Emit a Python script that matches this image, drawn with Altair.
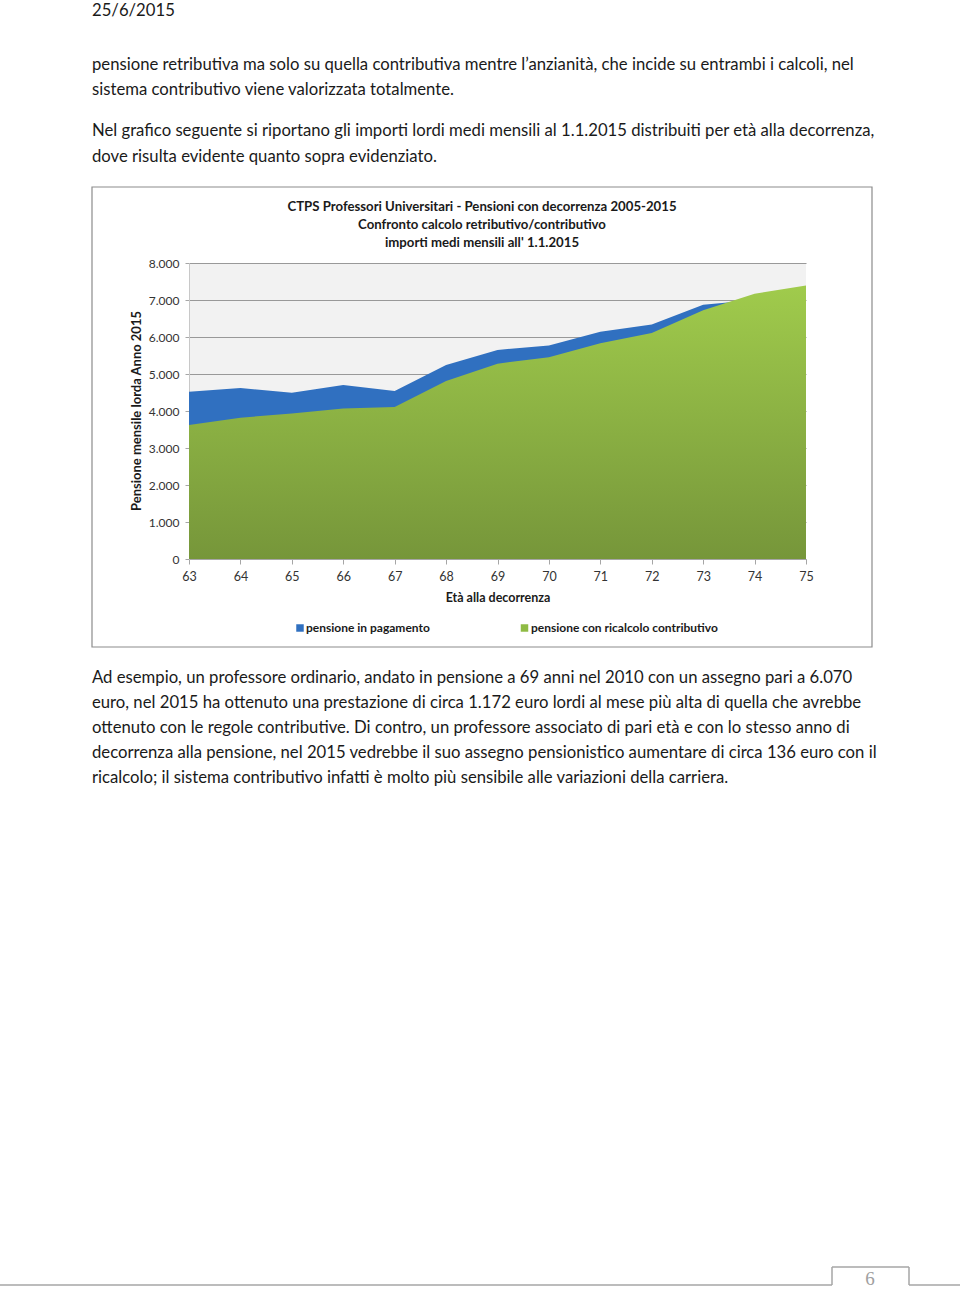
import altair as alt
import pandas as pd

# ---------------- data ----------------
ages = [63, 64, 65, 66, 67, 68, 69, 70, 71, 72, 73, 74, 75]
pensione_in_pagamento = [4520, 4620, 4490, 4700, 4540, 5240, 5650, 5770, 6140, 6340, 6870, 7000, 7250]
pensione_ricalcolo = [3620, 3820, 3930, 4070, 4110, 4810, 5280, 5450, 5830, 6110, 6720, 7170, 7390]
y_ticks = [0, 1000, 2000, 3000, 4000, 5000, 6000, 7000, 8000]
series_names = ["pensione in pagamento", "pensione con ricalcolo contributivo"]

title_lines = [
    "CTPS Professori Universitari - Pensioni con decorrenza 2005-2015",
    "Confronto calcolo retributivo/contributivo",
    "importi medi mensili all' 1.1.2015",
]
y_title = "Pensione mensile lorda Anno 2015"
x_title = "Età alla decorrenza"

header_date = "25/6/2015"
para1 = [
    "pensione retributiva ma solo su quella contributiva mentre l\u2019anzianità, che incide su entrambi i calcoli, nel",
    "sistema contributivo viene valorizzata totalmente.",
]
para2 = [
    "Nel grafico seguente si riportano gli importi lordi medi mensili al 1.1.2015 distribuiti per età alla decorrenza,",
    "dove risulta evidente quanto sopra evidenziato.",
]
para3 = [
    "Ad esempio, un professore ordinario, andato in pensione a 69 anni nel 2010 con un assegno pari a 6.070",
    "euro, nel 2015 ha ottenuto una prestazione di circa 1.172 euro lordi al mese più alta di quella che avrebbe",
    "ottenuto con le regole contributive. Di contro, un professore associato di pari età e con lo stesso anno di",
    "decorrenza alla pensione, nel 2015 vedrebbe il suo assegno pensionistico aumentare di circa 136 euro con il",
    "ricalcolo; il sistema contributivo infatti è molto più sensibile alle variazioni della carriera.",
]
page_number = "6"

# ---------------- styling ----------------
BODY_FONT = "Lato, 'Open Sans', sans-serif"
CHART_FONT = "Lato, 'Open Sans', sans-serif"
BLUE = "#3070c0"
GREEN_TOP = "#a0cb4c"
GREEN_BOTTOM = "#76963a"
TEXT_COLOR = "#1a1a1a"

# plot area placement on the page
PL, PT, PW, PH = 189, 263, 617, 296
PAGE_W, PAGE_H = 960, 1289

df = pd.DataFrame({
    "eta": ages,
    "pagamento": pensione_in_pagamento,
    "ricalcolo": pensione_ricalcolo,
})
base = alt.Chart(df)

x_enc = alt.X(
    "eta:Q",
    scale=alt.Scale(domain=[ages[0], ages[-1]], nice=False, zero=False),
    axis=alt.Axis(
        values=ages, format="d", title=None, grid=False, labelFlush=False,
        domainColor="#a6a6a6", tickColor="#a6a6a6", tickSize=5,
        labelPadding=6, labelFont=CHART_FONT, labelFontSize=12.5, labelColor="#333333",
    ),
)
y_axis = alt.Axis(
    values=y_ticks, title=None, grid=True, gridColor="#999999", gridWidth=1.2,
    labelExpr="replace(format(datum.value, ','), ',', '.')",
    domainColor="#c8c8c8", tickColor="#a6a6a6", tickSize=4,
    labelPadding=6, labelFont=CHART_FONT, labelFontSize=12, labelColor="#333333",
)
y_scale = alt.Scale(domain=[0, 8000], nice=False)

blue_area = base.mark_area(color=BLUE, interpolate="linear").encode(
    x=x_enc,
    y=alt.Y("pagamento:Q", scale=y_scale, axis=y_axis),
)
green_area = base.mark_area(
    interpolate="linear",
    color=alt.Gradient(
        gradient="linear",
        stops=[alt.GradientStop(color=GREEN_TOP, offset=0),
               alt.GradientStop(color=GREEN_BOTTOM, offset=1)],
        x1=1, x2=1, y1=0, y2=1,
    ),
).encode(
    x=x_enc,
    y=alt.Y("ricalcolo:Q", scale=y_scale, axis=y_axis),
)

one = pd.DataFrame({"k": [0]})


def text_lines(lines, x, y0, step, size, font, weight="normal", align="left",
               color=TEXT_COLOR, angle=0):
    layers = []
    for i, line in enumerate(lines):
        layers.append(
            alt.Chart(pd.DataFrame({"t": [line]})).mark_text(
                font=font, fontSize=size, fontWeight=weight, align=align,
                baseline="middle", color=color, angle=angle,
            ).encode(
                text="t:N",
                x=alt.value(x - PL),
                y=alt.value(y0 + i * step - PT),
            )
        )
    return layers


layers = [blue_area, green_area]

# chart title
layers += text_lines(title_lines, 482, 207, 18.2, 13.2, CHART_FONT, weight="bold", align="center")
# axis titles
layers += text_lines([y_title], 137, 411, 0, 13, CHART_FONT, weight="bold", align="center", angle=270)
layers += text_lines([x_title], 498, 598, 0, 12.5, CHART_FONT, weight="bold", align="center")

# legend
legend_sq = [
    alt.Chart(one).mark_square(size=56, color=BLUE, opacity=1).encode(
        x=alt.value(300 - PL), y=alt.value(628 - PT)),
    alt.Chart(one).mark_square(size=56, color="#8fbb44", opacity=1).encode(
        x=alt.value(524.5 - PL), y=alt.value(628 - PT)),
]
layers += legend_sq
layers += text_lines([series_names[0]], 306, 628, 0, 12, CHART_FONT, weight="bold")
layers += text_lines([series_names[1]], 531, 628, 0, 12, CHART_FONT, weight="bold")

# chart frame
layers.append(
    alt.Chart(one).mark_rect(fillOpacity=0, stroke="#8c8c8c", strokeWidth=1.2).encode(
        x=alt.value(92 - PL), x2=alt.value(872 - PL),
        y=alt.value(187 - PT), y2=alt.value(647 - PT),
    )
)

# page text
BODY_SIZE = 16.7
layers += text_lines([header_date], 92, 11, 0, BODY_SIZE, BODY_FONT)
layers += text_lines(para1, 92, 65, 25, BODY_SIZE, BODY_FONT)
layers += text_lines(para2, 92, 131, 25.5, BODY_SIZE, BODY_FONT)
layers += text_lines(para3, 92, 678, 25, BODY_SIZE, BODY_FONT)

# footer with page tab
FOOT = "#a6a6a6"
for (x1, x2, y1, y2) in [(0, 832, 1285, 1285), (909, 960, 1285, 1285), (832, 909, 1267, 1267)]:
    layers.append(alt.Chart(one).mark_rule(color=FOOT, strokeWidth=1.5).encode(
        x=alt.value(x1 - PL), x2=alt.value(x2 - PL), y=alt.value(y1 - PT)))
for xv in [832, 909]:
    layers.append(alt.Chart(one).mark_rule(color=FOOT, strokeWidth=1.5).encode(
        x=alt.value(xv - PL), y=alt.value(1267 - PT), y2=alt.value(1285 - PT)))
layers += text_lines([page_number], 870, 1279, 0, 19, "'Liberation Serif', 'DejaVu Serif', serif",
                     align="center", color="#a0a0a0")

chart = alt.layer(*layers).properties(
    width=PW, height=PH,
    autosize=alt.AutoSizeParams(type="none"),
    padding={"left": PL, "top": PT, "right": PAGE_W - PL - PW, "bottom": PAGE_H - PT - PH},
    background="white",
).configure_view(fill="#f2f2f2", stroke=None)

chart.save("out.html", embed_options={"renderer": "svg", "actions": False})
